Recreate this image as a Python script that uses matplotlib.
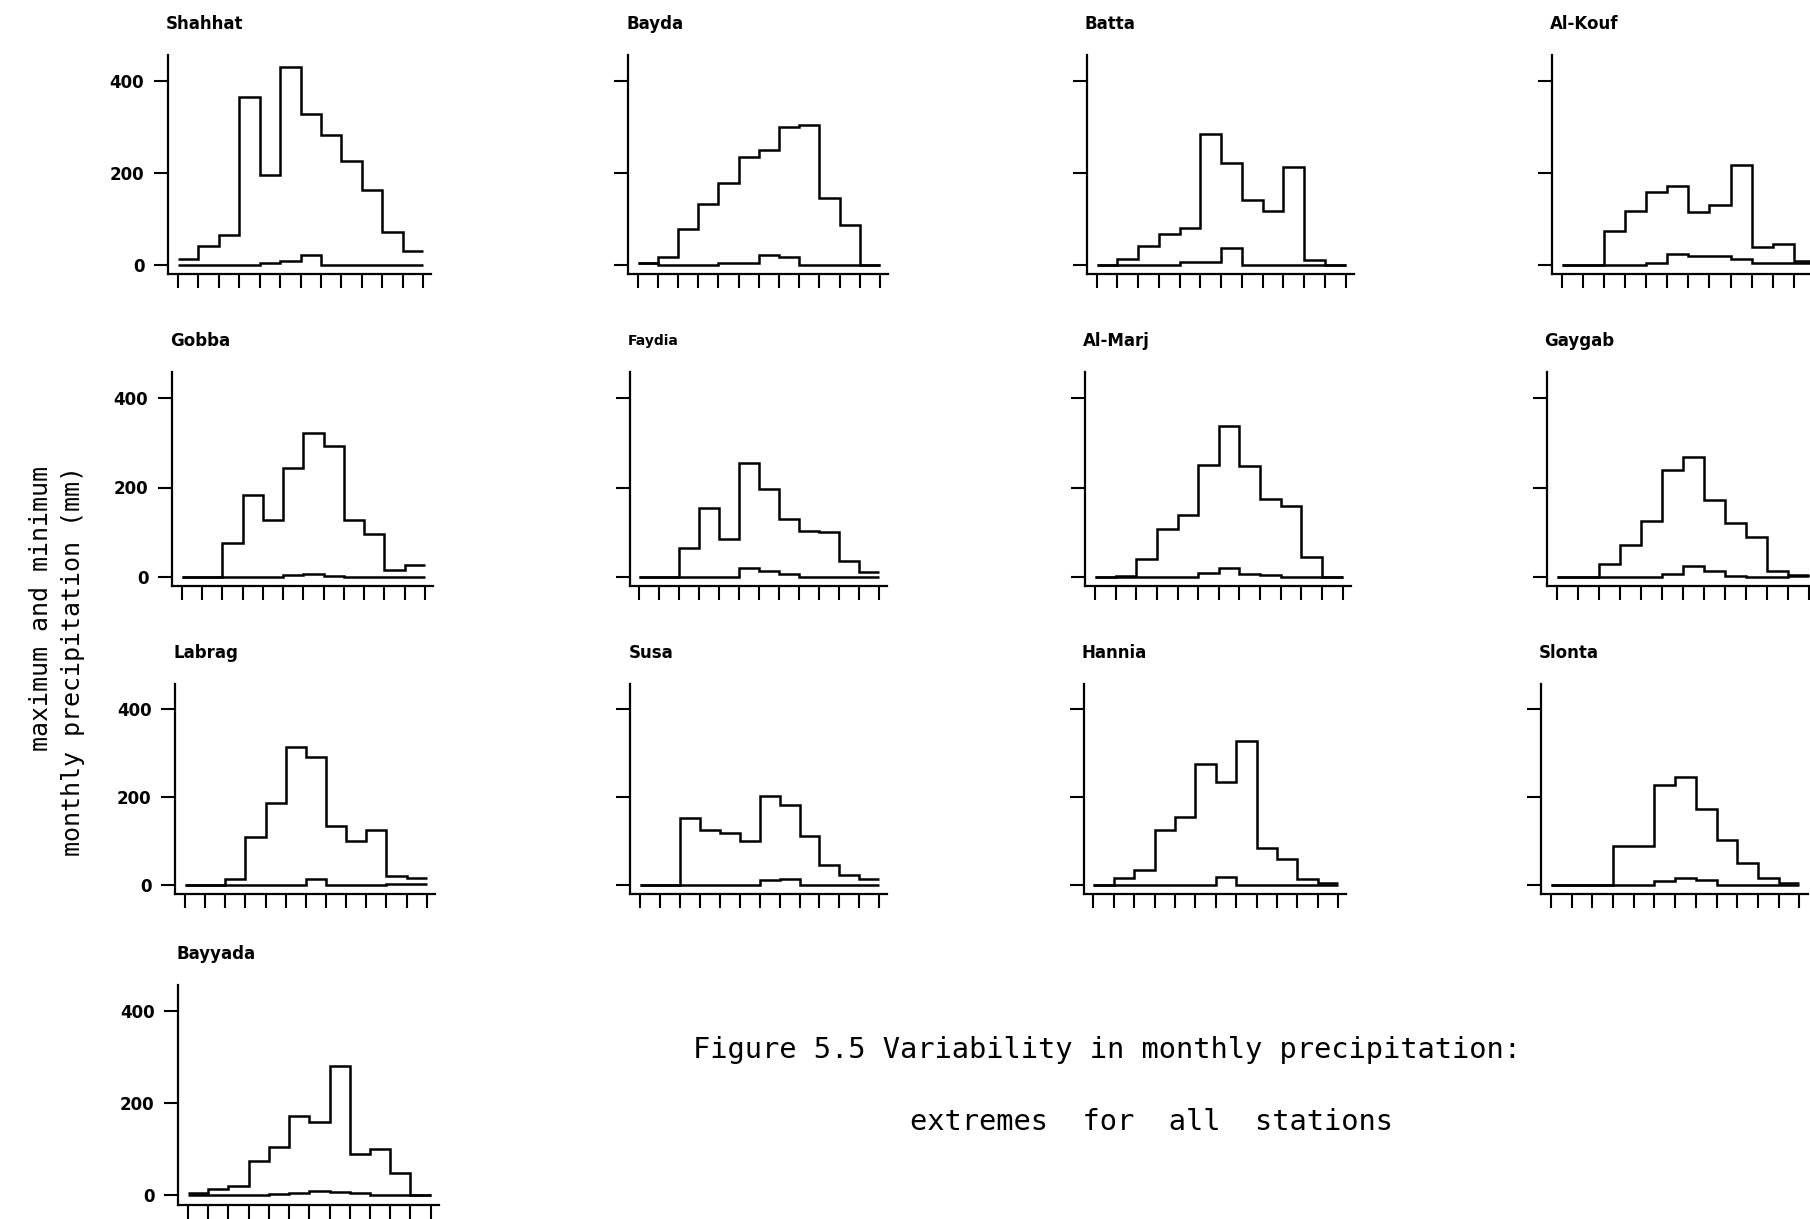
import numpy as np
import matplotlib
matplotlib.use("Agg")
import matplotlib.pyplot as plt

# figure size in pixels (dpi 100)
W, H = 1810, 1219

months = np.arange(13)  # bin edges, 12 months

stations = ["Shahhat", "Bayda", "Batta", "Al-Kouf",
            "Gobba", "Faydia", "Al-Marj", "Gaygab",
            "Labrag", "Susa", "Hannia", "Slonta",
            "Bayyada"]

# maximum / minimum monthly precipitation (mm)
shahhat_max = [12, 41, 64, 366, 196, 431, 328, 282, 226, 162, 72, 30]
shahhat_min = [0, 0, 0, 0, 3, 7, 20, 0, 0, 0, 0, 0]
bayda_max = [4, 16, 78, 133, 178, 235, 251, 300, 305, 146, 86, 0]
bayda_min = [4, 0, 0, 0, 4, 3, 20, 17, 0, 0, 0, 0]
batta_max = [0, 13, 40, 66, 79, 285, 221, 141, 117, 213, 10, 0]
batta_min = [0, 0, 0, 0, 6, 6, 37, 0, 0, 0, 0, 0]
alkouf_max = [0, 0, 73, 116, 158, 171, 115, 131, 217, 39, 44, 7]
alkouf_min = [0, 0, 0, 0, 3, 22, 18, 18, 11, 3, 3, 4]
gobba_max = [0, 0, 77, 184, 128, 244, 321, 293, 128, 95, 15, 26]
gobba_min = [0, 0, 0, 0, 0, 4, 6, 2, 0, 0, 0, 0]
faydia_max = [0, 0, 65, 155, 84, 254, 197, 129, 103, 101, 36, 11]
faydia_min = [0, 0, 0, 0, 0, 19, 13, 6, 0, 0, 0, 0]
almarj_max = [0, 3, 40, 108, 138, 250, 338, 248, 175, 158, 45, 0]
almarj_min = [0, 0, 0, 0, 0, 9, 20, 7, 5, 1, 0, 0]
gaygab_max = [0, 0, 28, 72, 126, 240, 269, 171, 120, 90, 13, 5]
gaygab_min = [0, 0, 0, 0, 0, 7, 24, 13, 3, 0, 0, 3]
labrag_max = [0, 0, 13, 108, 187, 314, 292, 133, 100, 125, 20, 17]
labrag_min = [0, 0, 0, 0, 0, 0, 14, 0, 0, 0, 2, 2]
susa_max = [0, 0, 153, 126, 119, 100, 202, 181, 112, 45, 23, 13]
susa_min = [0, 0, 0, 0, 0, 0, 11, 14, 0, 0, 0, 0]
hannia_max = [0, 17, 35, 126, 154, 274, 235, 327, 83, 58, 14, 5]
hannia_min = [0, 0, 0, 0, 0, 0, 19, 0, 0, 0, 0, 0]
slonta_max = [0, 0, 0, 88, 88, 228, 245, 172, 102, 49, 17, 5]
slonta_min = [0, 0, 0, 0, 0, 8, 15, 11, 0, 0, 0, 0]
bayyada_max = [4, 12, 20, 73, 104, 172, 158, 280, 90, 100, 48, 0]
bayyada_min = [0, 0, 0, 0, 2, 4, 8, 6, 4, 0, 0, 0]

max_series = [shahhat_max, bayda_max, batta_max, alkouf_max,
              gobba_max, faydia_max, almarj_max, gaygab_max,
              labrag_max, susa_max, hannia_max, slonta_max,
              bayyada_max]
min_series = [shahhat_min, bayda_min, batta_min, alkouf_min,
              gobba_min, faydia_min, almarj_min, gaygab_min,
              labrag_min, susa_min, hannia_min, slonta_min,
              bayyada_min]

ytick_vals = [0, 200, 400]

# layout in pixels: x of first/last month tick, row index
tick0_px = [177.7, 637.7, 1096.7, 1561.7,
            181.7, 639.3, 1095.0, 1556.7,
            185.0, 640.0, 1093.3, 1551.0,
            188.0]
tick12_px = [423.3, 880.0, 1345.7, 1815.0,
             425.0, 879.3, 1342.7, 1808.7,
             426.7, 879.3, 1338.3, 1799.3,
             430.6]
row_of = [0, 0, 0, 0, 1, 1, 1, 1, 2, 2, 2, 2, 3]
row_y0 = [264.5, 577.0, 885.0, 1195.0]     # pixel y of value 0
row_y400 = [81.5, 398.0, 709.0, 1011.0]    # pixel y of value 400

XMIN, XMAX = -0.48, 12.4
YMIN, YMAX = -21, 457

mono = "DejaVu Sans Mono"

fig = plt.figure(figsize=(W / 100, H / 100), dpi=100, facecolor="white")


def place_axes(x0, x12, y0, y400):
    pxb = (x12 - x0) / 12.0
    left = x0 + XMIN * pxb
    right = x0 + XMAX * pxb
    pyu = (y0 - y400) / 400.0
    top = y0 - YMAX * pyu
    bottom = y0 - YMIN * pyu
    ax = fig.add_axes([left / W, 1 - bottom / H, (right - left) / W, (bottom - top) / H])
    ax.set_xlim(XMIN, XMAX)
    ax.set_ylim(YMIN, YMAX)
    return ax, left, top


for i, name in enumerate(stations):
    r = row_of[i]
    ax, left, top = place_axes(tick0_px[i], tick12_px[i], row_y0[r], row_y400[r])
    ax.set_facecolor("none")

    ax.stairs(max_series[i], months, baseline=None, color="black", lw=1.8)
    ax.stairs(min_series[i], months, baseline=None, color="black", lw=1.8)

    for s in ["top", "right"]:
        ax.spines[s].set_visible(False)
    for s in ["left", "bottom"]:
        ax.spines[s].set_linewidth(1.6)

    ax.set_xticks(months)
    ax.set_xticklabels([])
    ax.set_yticks(ytick_vals)
    ax.tick_params(axis="both", direction="out", length=10, width=1.5)
    ax.tick_params(axis="y", pad=7)
    if i % 4 == 0:
        ax.set_yticklabels([str(v) for v in ytick_vals], fontsize=12, fontweight="bold")
    else:
        ax.set_yticklabels([])

    fs = 10 if name == "Faydia" else 12
    fig.text((left - 2) / W, 1 - (top - 31) / H, name, fontsize=fs, fontweight="bold",
             ha="left", va="center")

# shared y label (two lines)
fig.text(41 / W, 1 - 466 / H, "maximum and minimum", rotation=90, family=mono,
         fontsize=18, ha="center", va="top")
fig.text(73 / W, 1 - 466 / H, "monthly precipitation (mm)", rotation=90, family=mono,
         fontsize=18, ha="center", va="top")

# caption
fig.text(693 / W, 1 - 1050 / H, "Figure 5.5 Variability in monthly precipitation:",
         family=mono, fontsize=20.7, ha="left", va="center")
fig.text(910 / W, 1 - 1122 / H, "extremes  for  all  stations",
         family=mono, fontsize=20.7, ha="left", va="center")

fig.savefig("out.png", dpi=100, facecolor="white")
